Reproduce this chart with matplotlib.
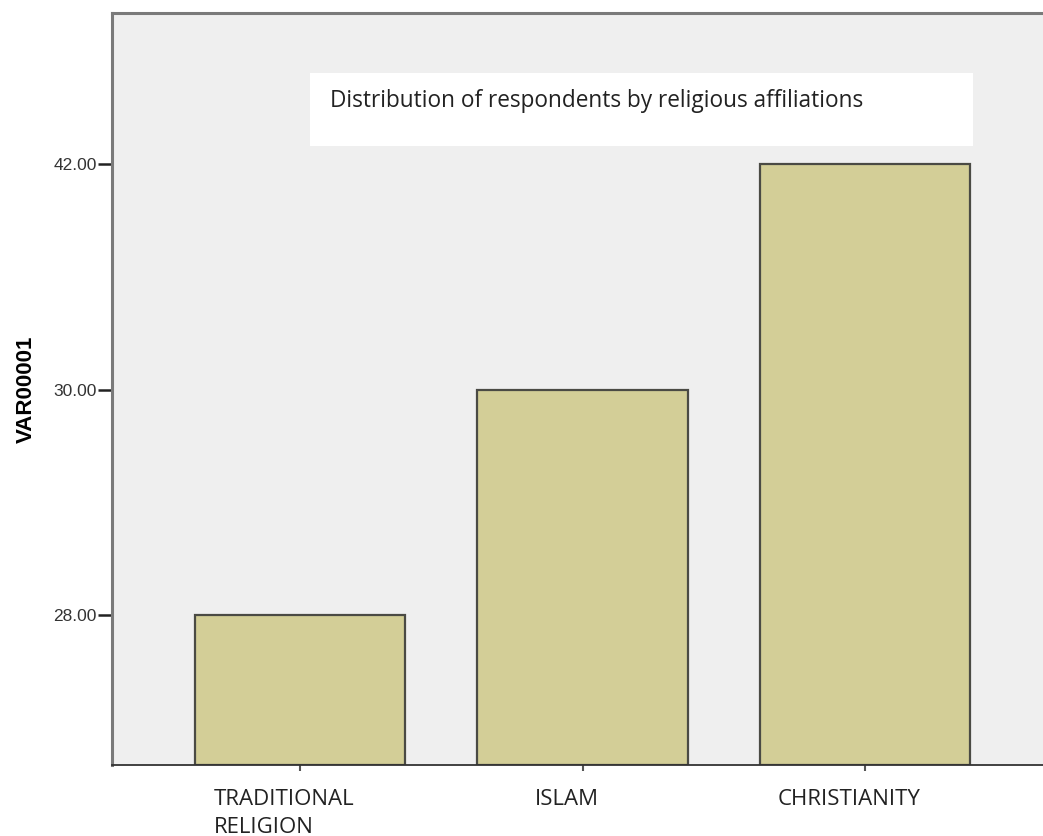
import numpy as np
import matplotlib
matplotlib.use('Agg')
import matplotlib.pyplot as plt
import matplotlib.transforms as mtransforms

# data
categories = ['TRADITIONAL\nRELIGION', 'ISLAM', 'CHRISTIANITY']
values = [28, 30, 42]
title = 'Distribution of respondents by religious affiliations'
y_label = 'VAR00001'

# SPSS puts the values on a category axis, so each distinct value gets one slot
levels = np.unique(values)
ranks = [int(np.where(levels == v)[0][0]) for v in values]

W, H = 1043, 836
fig = plt.figure(figsize=(W / 100, H / 100), dpi=100)
# plot area in pixels: left 112, top 13, bottom 765, right past the image edge
ax = fig.add_axes([112 / W, (H - 765) / H, (1053 - 112) / W, (765 - 13) / H])
ax.set_facecolor('#efefef')

x = np.arange(len(categories))
ymin = -0.665
ax.bar(x, np.array(ranks) - ymin, bottom=ymin, width=0.745,
       color='#d3ce97', edgecolor='#4a4a44', linewidth=1.6)

ax.set_xlim(-0.665, 2.665)
ax.set_ylim(ymin, 2.67)

ax.set_yticks(range(len(levels)))
ax.set_yticklabels(['%.2f' % v for v in levels], fontsize=12.5,
                   family='Liberation Sans', color='#333333')
ax.tick_params(axis='y', length=10, width=1.8, color='#222222', pad=1)

ax.set_xticks(x)
ax.set_xticklabels(categories, fontsize=16, family='Open Sans',
                   color='#222222', multialignment='left', linespacing=1.45)
ax.tick_params(axis='x', length=4, width=1.5, color='#555555', pad=13)
# SPSS draws the category labels a little left of the bar centres
shift = mtransforms.ScaledTranslation(-16 / 100, 0, fig.dpi_scale_trans)
for lab in ax.get_xticklabels():
    lab.set_transform(lab.get_transform() + shift)

ax.set_ylabel(y_label, fontsize=16, fontweight='bold', family='Liberation Sans',
              labelpad=12)

for s in ['top', 'left']:
    ax.spines[s].set_color('#7a7a7a')
    ax.spines[s].set_linewidth(2.2)
ax.spines['right'].set_visible(False)
ax.spines['bottom'].set_color('#333333')
ax.spines['bottom'].set_linewidth(1.3)

# title box
fig.patches.append(plt.Rectangle((310 / W, 1 - 146 / H), (973 - 310) / W, 73 / H,
                                 transform=fig.transFigure, facecolor='white',
                                 edgecolor='none', zorder=5))
fig.text(330 / W, 1 - 107 / H, title, fontsize=16.3, family='Open Sans',
         color='#222222', va='baseline', ha='left', zorder=6)

fig.savefig('out.png', dpi=100, facecolor='white')
